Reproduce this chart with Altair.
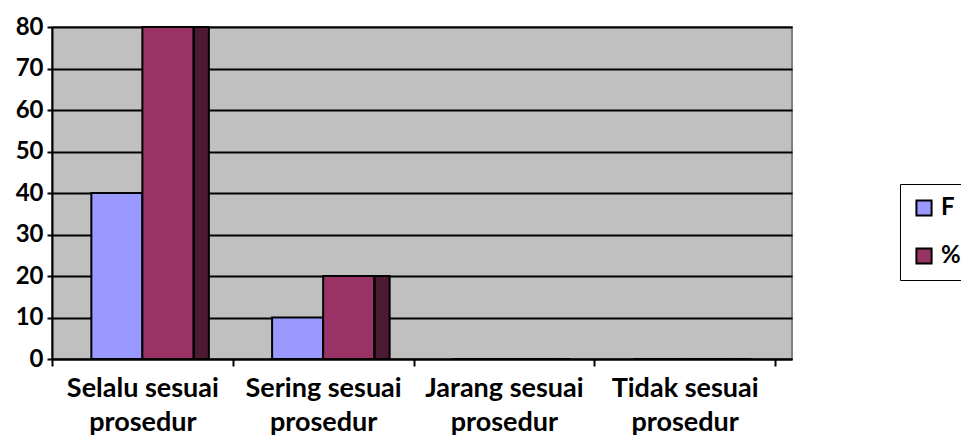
import altair as alt
import pandas as pd

categories = ["Selalu sesuai\nprosedur", "Sering sesuai\nprosedur",
              "Jarang sesuai\nprosedur", "Tidak sesuai\nprosedur"]
series = ["F", "%"]
f_values = [40, 10, 0, 0]
pct_values = [80, 20, 0, 0]
y_ticks = [0, 10, 20, 30, 40, 50, 60, 70, 80]
colors = ["#9999FF", "#993366"]
side_color = "#4C1A33"

rows = []
for c, f, p in zip(categories, f_values, pct_values):
    rows.append({"cat": c, "series": "F", "value": f})
    rows.append({"cat": c, "series": "%", "value": p})
df = pd.DataFrame(rows)

FONT = "Lato"

x_enc = alt.X(
    "cat:N", sort=categories,
    scale=alt.Scale(paddingInner=0, paddingOuter=0.047, align=0),
    axis=alt.Axis(title=None, labelAngle=0, tickBand="extent",
                  labelExpr="split(datum.label, '\\n')",
                  labelFontSize=27, labelLineHeight=34, labelPadding=9,
                  tickSize=7, tickWidth=2, tickColor="black",
                  domainColor="black", domainWidth=2, grid=False,
                  labelColor="black", labelFontWeight="bold", labelFont=FONT),
)
y_enc = alt.Y(
    "value:Q",
    scale=alt.Scale(domain=[0, 80], nice=False),
    axis=alt.Axis(title=None, values=y_ticks, grid=True, gridColor="black",
                  gridWidth=2, gridOpacity=1, domainColor="black", domainWidth=2,
                  tickColor="black", tickWidth=2, tickSize=5, labelPadding=4,
                  labelFontSize=24, labelColor="black", labelFontWeight="bold",
                  labelFont=FONT),
)

side = alt.Chart(df).transform_filter(alt.datum.series == "%").mark_bar(
    width=15, xOffset=59, color=side_color, stroke="black", strokeWidth=2
).encode(x=x_enc, y=y_enc)

bars = alt.Chart(df).mark_bar(stroke="black", strokeWidth=2).encode(
    x=x_enc,
    xOffset=alt.XOffset("series:N", sort=series,
                        scale=alt.Scale(domain=series, paddingInner=0, paddingOuter=0.771)),
    y=y_enc,
    color=alt.Color("series:N", sort=series,
                    scale=alt.Scale(domain=series, range=colors),
                    legend=alt.Legend(title=None, orient="none", legendX=848, legendY=157,
                                      symbolType="square", symbolSize=230,
                                      symbolStrokeColor="black", symbolStrokeWidth=2,
                                      symbolOpacity=1, labelOffset=5,
                                      labelFontSize=24, labelFontWeight="bold",
                                      labelColor="black", labelFont=FONT,
                                      rowPadding=24, padding=12,
                                      strokeColor="black")),
)

chart = alt.layer(side, bars).properties(
    width=740, height=332,
    background="white",
    autosize=alt.AutoSizeParams(type="none"),
    padding={"left": 44, "top": 19, "right": 169, "bottom": 77},
).configure_view(
    fill="#C0C0C0", stroke="#808080", strokeWidth=2
)

chart.save("out.html", embed_options={"renderer": "svg", "actions": False})
